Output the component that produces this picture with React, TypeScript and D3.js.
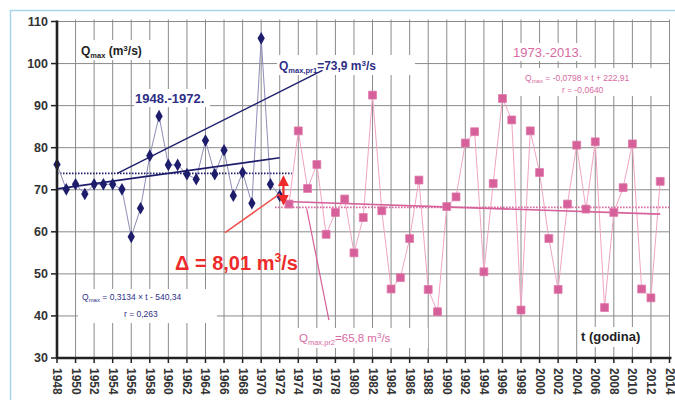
import React from "react";
import * as d3 from "d3";

// ---------- data ----------
const YEARS_1 = [1948, 1949, 1950, 1951, 1952, 1953, 1954, 1955, 1956, 1957, 1958, 1959, 1960, 1961, 1962, 1963, 1964, 1965, 1966, 1967, 1968, 1969, 1970, 1971, 1972];
const QMAX_1 = [76.0, 70.1, 71.3, 69.0, 71.3, 71.3, 71.3, 70.1, 58.8, 65.6, 78.1, 87.5, 75.9, 75.9, 73.7, 72.5, 81.7, 73.7, 79.4, 68.6, 74.1, 66.8, 106.0, 71.3, 68.6];

const YEARS_2 = [1973, 1974, 1975, 1976, 1977, 1978, 1979, 1980, 1981, 1982, 1983, 1984, 1985, 1986, 1987, 1988, 1989, 1990, 1991, 1992, 1993, 1994, 1995, 1996, 1997, 1998, 1999, 2000, 2001, 2002, 2003, 2004, 2005, 2006, 2007, 2008, 2009, 2010, 2011, 2012, 2013];
const QMAX_2 = [66.6, 84.0, 70.3, 76.0, 59.4, 64.6, 67.8, 55.0, 63.4, 92.5, 65.0, 46.4, 49.1, 58.4, 72.3, 46.3, 41.0, 66.0, 68.3, 81.1, 83.8, 50.5, 71.5, 91.7, 86.6, 41.4, 84.0, 74.1, 58.4, 46.3, 66.6, 80.6, 65.4, 81.4, 42.0, 64.6, 70.5, 80.9, 46.4, 44.3, 72.0];

const X_TICKS = [1948, 1950, 1952, 1954, 1956, 1958, 1960, 1962, 1964, 1966, 1968, 1970, 1972, 1974, 1976, 1978, 1980, 1982, 1984, 1986, 1988, 1990, 1992, 1994, 1996, 1998, 2000, 2002, 2004, 2006, 2008, 2010, 2012, 2014];
const Y_TICKS = [30, 40, 50, 60, 70, 80, 90, 100, 110];

const MEAN_1 = 73.9;
const MEAN_2 = 65.8;
const MEAN_1_SPAN = [1948, 1973.3];
const MEAN_2_SPAN = [1971.5, 2014];
const TREND_1: [number, number][] = [[1948, 70.2], [1972, 77.6]];
const TREND_2: [number, number][] = [[1972.6, 67.2], [2013, 64.2]];
const CALLOUT_1: [number, number][] = [[1954.5, 73.9], [1976.6, 98.4]];
const CALLOUT_2: [number, number][] = [[1974.9, 65.6], [1977.3, 39.0]];
const DELTA_LINE: [number, number][] = [[1966.1, 59.8], [1972.0, 69.0]];
const DELTA_ARROW_YEAR = 1972.4;

// ---------- styles ----------
const FONT = "'Liberation Sans', Arial, Helvetica, sans-serif";
const NAVY = "#1d1d6b";
const NAVY_TXT = "#2e2e85";
const PINK = "#d6609a";
const PINK_TXT = "#d86aa2";
const RED = "#ee2a2a";

export default function App() {
  const W = 675, H = 400;
  const x = d3.scaleLinear().domain([1948, 2014]).range([57, 669.5]);
  const y = d3.scaleLinear().domain([30, 110]).range([358, 21.5]);

  const line = d3.line<[number, number]>().x(d => x(d[0])).y(d => y(d[1]));
  const s1: [number, number][] = YEARS_1.map((yr, i) => [yr, QMAX_1[i]]);
  const s2: [number, number][] = YEARS_2.map((yr, i) => [yr, QMAX_2[i]]);
  const diamond = d3.symbol().type(d3.symbolDiamond).size(46)()!;
  const square = d3.symbol().type(d3.symbolSquare).size(62)()!;

  const gridV = X_TICKS.filter(t => t !== 1948);
  const gridH = Y_TICKS.filter(t => t !== 30);

  return (
    <svg width={W} height={H} style={{ position: "absolute", left: 0, top: 0, background: "#fff" }} fontFamily={FONT}>
      <defs>
        <marker id="ah" viewBox="0 0 10 10" refX="8" refY="5" markerWidth="5" markerHeight="5" orient="auto-start-reverse">
          <path d="M0,0 L10,5 L0,10 z" fill={RED} />
        </marker>
      </defs>
      <rect x={0} y={0} width={W} height={H} fill="#fff" />
      {/* outer frame */}
      <rect x={10.5} y={10.5} width={W + 20} height={H + 20} fill="none" stroke="#a6d6e4" strokeWidth={1.5} />

      {/* grid */}
      <g stroke="#8a8a8a" strokeWidth={1}>
        {gridV.map(t => (
          <line key={"gv" + t} x1={x(t)} x2={x(t)} y1={y(110) - 2} y2={y(30)} />
        ))}
        {gridH.map(t => (
          <line key={"gh" + t} x1={x(1948)} x2={x(2014)} y1={y(t)} y2={y(t)} />
        ))}
      </g>

      {/* text backgrounds */}
      <g fill="#fff">
        <rect x={78} y={40} width={78} height={20} />
        <rect x={134} y={89} width={76} height={18} />
        <rect x={277} y={55} width={138} height={20} />
        <rect x={510} y={43} width={84} height={18} />
        <rect x={520} y={68} width={132} height={28} />
        <rect x={78} y={289} width={139} height={34} />
        <rect x={296} y={328} width={132} height={20} />
        <rect x={578} y={327} width={72} height={20} />
      </g>

      {/* mean lines */}
      <line x1={x(MEAN_1_SPAN[0])} x2={x(MEAN_1_SPAN[1])} y1={y(MEAN_1)} y2={y(MEAN_1)} stroke={NAVY} strokeWidth={1.6} strokeDasharray="1.5,1.5" />
      <line x1={x(MEAN_2_SPAN[0])} x2={x(MEAN_2_SPAN[1])} y1={y(MEAN_2)} y2={y(MEAN_2)} stroke={PINK} strokeWidth={1.6} strokeDasharray="1.5,1.5" />

      {/* series lines */}
      <path d={line(s1)!} fill="none" stroke="#8d8db8" strokeWidth={1} />
      <path d={line(s2)!} fill="none" stroke="#f0a4c4" strokeWidth={1} />

      {/* trends and callouts */}
      <path d={line(TREND_1)!} fill="none" stroke={NAVY} strokeWidth={1.6} />
      <path d={line(CALLOUT_1)!} fill="none" stroke={NAVY} strokeWidth={1.4} />
      <path d={line(TREND_2)!} fill="none" stroke={PINK} strokeWidth={1.6} />
      <path d={line(CALLOUT_2)!} fill="none" stroke={PINK} strokeWidth={1.2} />

      {/* markers */}
      {s1.map(([yr, v]) => (
        <path key={"d" + yr} d={diamond} transform={`translate(${x(yr)},${y(v)})`} fill={NAVY} />
      ))}
      {s2.map(([yr, v]) => (
        <path key={"s" + yr} d={square} transform={`translate(${x(yr)},${y(v)})`} fill={PINK} stroke="#e07aab" strokeWidth={0.8} />
      ))}

      {/* delta annotation */}
      <path d={line(DELTA_LINE)!} fill="none" stroke="#f05050" strokeWidth={1.6} />
      <line x1={x(DELTA_ARROW_YEAR)} x2={x(DELTA_ARROW_YEAR)} y1={y(MEAN_1) + 4} y2={y(MEAN_2) - 4} stroke={RED} strokeWidth={2.2} markerStart="url(#ah)" markerEnd="url(#ah)" />

      {/* axes */}
      <line x1={x(1948)} x2={x(1948)} y1={y(110) - 1} y2={y(30) + 1} stroke="#222" strokeWidth={2.6} />
      <line x1={x(1948) - 1} x2={x(2014) + 2} y1={y(30)} y2={y(30)} stroke="#222" strokeWidth={2.6} />
      {Y_TICKS.map(t => (
        <g key={"yt" + t}>
          <line x1={x(1948) - 6} x2={x(1948)} y1={y(t)} y2={y(t)} stroke="#222" strokeWidth={1.5} />
          <text x={x(1948) - 9} y={y(t)} textAnchor="end" dominantBaseline="central" fontSize={12.5} fontWeight="bold" fill="#333">{t}</text>
        </g>
      ))}
      {X_TICKS.map(t => (
        <g key={"xt" + t}>
          <line x1={x(t)} x2={x(t)} y1={y(30)} y2={y(30) + 5} stroke="#222" strokeWidth={1.5} />
          <text transform={`translate(${x(t)},${y(30) + 10}) rotate(90)`} dominantBaseline="central" fontSize={12} fontWeight="bold" fill="#333">{t}</text>
        </g>
      ))}

      {/* labels */}
      <text x={81} y={55} fontSize={12} fontWeight="bold" fill="#222">
        Q<tspan fontSize={7.5} dy={3}>max</tspan><tspan dy={-3}> (m</tspan><tspan fontSize={8} dy={-4}>3</tspan><tspan dy={4}>/s)</tspan>
      </text>
      <text x={135} y={103} fontSize={13} fontWeight="bold" fill={NAVY_TXT}>1948.-1972.</text>
      <text x={279} y={70} fontSize={12} fontWeight="bold" fill={NAVY_TXT}>
        Q<tspan fontSize={7.5} dy={3}>max,pr1</tspan><tspan dy={-3}>=73,9 m</tspan><tspan fontSize={8} dy={-4}>3</tspan><tspan dy={4}>/s</tspan>
      </text>
      <text x={513} y={57} fontSize={13} fill={PINK_TXT}>1973.-2013.</text>
      <text x={525} y={81} fontSize={8.5} fill={PINK_TXT}>
        Q<tspan fontSize={6} dy={2}>max</tspan><tspan dy={-2}> = -0,0798 × t + 222,91</tspan>
      </text>
      <text x={562} y={93} fontSize={8.5} fill={PINK_TXT}>r = -0,0640</text>
      <text x={82} y={300} fontSize={8.5} fill={NAVY_TXT}>
        Q<tspan fontSize={6} dy={2}>max</tspan><tspan dy={-2}> = 0,3134 × t - 540,34</tspan>
      </text>
      <text x={124} y={317} fontSize={8.5} fill={NAVY_TXT}>r = 0,263</text>
      <text x={175} y={270} fontSize={20} fontWeight="bold" fill={RED}>
        Δ = 8,01 m<tspan fontSize={12} dy={-8}>3</tspan><tspan dy={8}>/s</tspan>
      </text>
      <text x={299} y={342} fontSize={11.5} fill={PINK_TXT}>
        Q<tspan fontSize={7.5} dy={3}>max,pr2</tspan><tspan dy={-3}>=65,8 m</tspan><tspan fontSize={8} dy={-4}>3</tspan><tspan dy={4}>/s</tspan>
      </text>
      <text x={581} y={341} fontSize={13} fontWeight="bold" fill="#222">t (godina)</text>
    </svg>
  );
}
